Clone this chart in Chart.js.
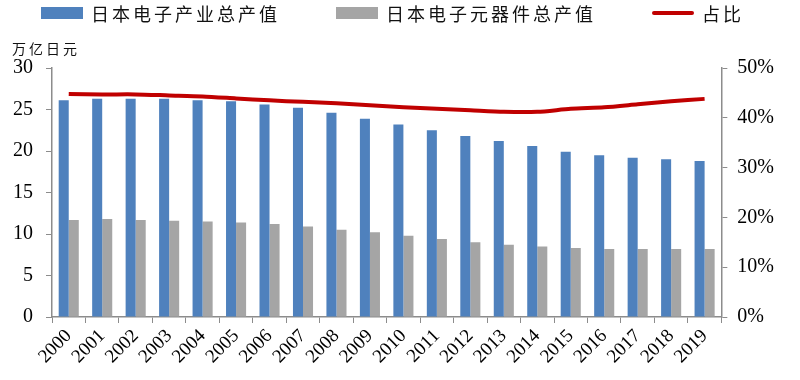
<!DOCTYPE html>
<html>
<head>
<meta charset="utf-8">
<script src="https://cdn.jsdelivr.net/npm/chart.js@4.4.0/dist/chart.umd.min.js"></script>
<style>
  html, body { margin: 0; padding: 0; background: #fff; }
  #wrap { width: 800px; height: 380px; }
</style>
</head>
<body>
<div id="wrap"><canvas id="jp-chart" width="800" height="380"></canvas></div>
<script>
// years on the x axis
const years = ['2000', '2001', '2002', '2003', '2004', '2005', '2006', '2007', '2008', '2009',
  '2010', '2011', '2012', '2013', '2014', '2015', '2016', '2017', '2018', '2019'];
// 日本电子产业总产值 (万亿日元)
const industryTotal = [26.1, 26.3, 26.3, 26.3, 26.1, 26.0, 25.6, 25.2, 24.6, 23.9,
  23.2, 22.5, 21.8, 21.2, 20.6, 19.9, 19.5, 19.2, 19.0, 18.8];
// 日本电子元器件总产值 (万亿日元)
const componentTotal = [11.7, 11.8, 11.7, 11.6, 11.5, 11.4, 11.2, 10.9, 10.5, 10.2,
  9.8, 9.4, 9.0, 8.7, 8.5, 8.3, 8.2, 8.2, 8.2, 8.2];
// 占比 (%)
const share = [44.8, 44.7, 44.7, 44.5, 44.3, 43.9, 43.5, 43.2, 42.9, 42.5,
  42.1, 41.8, 41.5, 41.2, 41.2, 41.8, 42.1, 42.7, 43.3, 43.8];
const leftTicks = [0, 5, 10, 15, 20, 25, 30];
const rightTicks = [0, 10, 20, 30, 40, 50];

const blue = '#4F81BD';
const gray = '#A5A5A5';
const red = '#C00000';
const axisGray = '#8c8c8c';
const serif = "'Liberation Serif', 'DejaVu Serif', serif";
const cjk = "'Noto Sans CJK SC', sans-serif";

// legend across the top and the unit label, drawn by hand
const topLabels = {
  id: 'topLabels',
  afterDraw(chart) {
    const c = chart.ctx;
    c.save();
    c.font = '18px ' + cjk;
    c.letterSpacing = '3px';
    c.textBaseline = 'middle';
    let x = 41;
    const y = 14;
    chart.data.datasets.forEach(ds => {
      if (ds.type === 'line') {
        c.strokeStyle = ds.borderColor;
        c.lineWidth = 4;
        c.lineCap = 'round';
        c.beginPath();
        c.moveTo(x + 2, y - 1);
        c.lineTo(x + 40, y - 1);
        c.stroke();
      } else {
        c.fillStyle = ds.backgroundColor;
        c.fillRect(x, y - 7, 42, 12);
      }
      c.fillStyle = '#111';
      c.fillText(ds.label, x + 50, y);
      x += 50 + c.measureText(ds.label).width + 56;
    });
    c.font = '14px ' + cjk;
    c.fillText('万亿日元', 12, 49);
    c.restore();
  }
};

const ctx = document.getElementById('jp-chart');
new Chart(ctx, {
  type: 'bar',
  data: {
    labels: years,
    datasets: [{
      label: '日本电子产业总产值',
      data: industryTotal,
      backgroundColor: blue,
      yAxisID: 'y'
    }, {
      label: '日本电子元器件总产值',
      data: componentTotal,
      backgroundColor: gray,
      yAxisID: 'y'
    }, {
      type: 'line',
      label: '占比',
      data: share,
      borderColor: red,
      backgroundColor: red,
      borderWidth: 4,
      pointRadius: 0,
      tension: 0.25,
      yAxisID: 'y1',
      order: -1
    }]
  },
  plugins: [topLabels],
  options: {
    responsive: false,
    animation: false,
    layout: { padding: { top: 68, left: 0, right: 16, bottom: 10 } },
    datasets: {
      bar: { categoryPercentage: 0.6, barPercentage: 1 }
    },
    plugins: {
      legend: { display: false },
      tooltip: { enabled: false }
    },
    scales: {
      x: {
        grid: { drawOnChartArea: false, drawTicks: true, tickLength: 6, color: axisGray, offset: true },
        border: { color: axisGray, width: 1.5 },
        ticks: {
          color: '#000',
          font: { family: serif, size: 19 },
          maxRotation: 45,
          minRotation: 45,
          autoSkip: false,
          padding: 2
        }
      },
      y: {
        position: 'left',
        min: leftTicks[0],
        max: leftTicks[leftTicks.length - 1],
        afterBuildTicks: axis => { axis.ticks = leftTicks.map(v => ({ value: v })); },
        grid: { drawOnChartArea: false, drawTicks: true, tickLength: 6, color: axisGray },
        border: { color: axisGray, width: 1.5 },
        ticks: { color: '#000', font: { family: serif, size: 20 }, padding: 13 }
      },
      y1: {
        position: 'right',
        min: rightTicks[0],
        max: rightTicks[rightTicks.length - 1],
        afterBuildTicks: axis => { axis.ticks = rightTicks.map(v => ({ value: v })); },
        grid: { drawOnChartArea: false, drawTicks: true, tickLength: 6, color: axisGray },
        border: { color: axisGray, width: 1.5 },
        ticks: {
          color: '#000',
          font: { family: serif, size: 20 },
          padding: 10,
          callback: v => v + '%'
        }
      }
    }
  }
});
</script>
</body>
</html>
